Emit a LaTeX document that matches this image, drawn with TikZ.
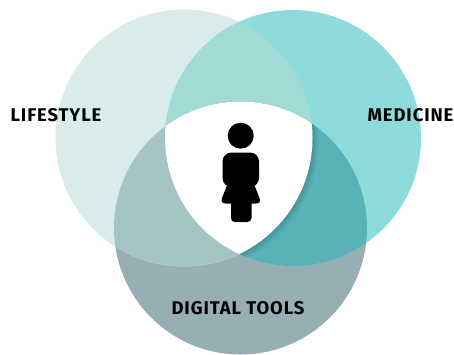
\documentclass[tikz,border=0pt]{standalone}
\usepackage{fontspec}
\newfontfamily\lblfont[LetterSpace=5,Ligatures=NoCommon]{Fira Sans Bold}
\definecolor{cL}{HTML}{D9ECE9}
\definecolor{cR}{HTML}{8DDBDB}
\definecolor{cB}{HTML}{98AEB5}
\definecolor{cLR}{HTML}{A2DBD6}
\definecolor{cLB}{HTML}{A5C5C4}
\definecolor{cRB}{HTML}{59B2B7}
\tikzset{
  lbl/.style={font=\lblfont\fontsize{18.4}{21}\selectfont,text=black,inner sep=0pt,anchor=center},
  figure part/.style={fill=black,draw=none}
}
\newcommand{\cL}{(184,138) circle (128.5)}
\newcommand{\cR}{(293,138) circle (128)}
\newcommand{\cB}{(240.5,228) circle (126.5)}
\begin{document}
\begin{tikzpicture}[x=1pt,y=-1pt]
\useasboundingbox (0,0) rectangle (454,354);
\fill[cB] \cB;
\fill[cL] \cL;
\fill[cR] \cR;
\begin{scope}\clip \cL; \fill[cLR] \cR; \fill[cLB] \cB; \end{scope}
\begin{scope}\clip \cR; \fill[cRB] \cB; \end{scope}
% shadow of the centre
\begin{scope}
  \clip \cB; \clip \cR;
  \foreach \d in {1,2,3,4,5,6,7,8}{
    \begin{scope}[shift={(\d*0.75,\d*0.55)}]
      \clip \cL; \clip \cR;
      \fill[black,opacity=0.02] \cB;
    \end{scope}
  }
\end{scope}
\begin{scope}\clip \cL; \clip \cR; \fill[white] \cB; \end{scope}
% person
\fill[figure part] (240.7,135.7) circle (13);
\fill[figure part, rounded corners=9pt] (222.5,152.5) rectangle (259,187);
\fill[figure part, line join=round]
  (228,183) -- (222,198) .. controls (220.5,202) and (223,203.5) .. (226,203.5)
  -- (231,203.5) -- (231,218) .. controls (231,220.5) and (232.5,222) .. (235,222)
  -- (247,222) .. controls (249.5,222) and (251.5,220.5) .. (251.5,218)
  -- (251.5,203.5) -- (256,203.5) .. controls (259,203.5) and (261,202) .. (259.5,198)
  -- (253.5,183) -- cycle;
\node[lbl] (lifestyle) at (56,115) {LIFESTYLE};
\node[lbl] (medicine) at (410.5,115) {MEDICINE};
\node[lbl] (digital) at (238,308) {DIGITAL TOOLS};
\end{tikzpicture}
\end{document}
